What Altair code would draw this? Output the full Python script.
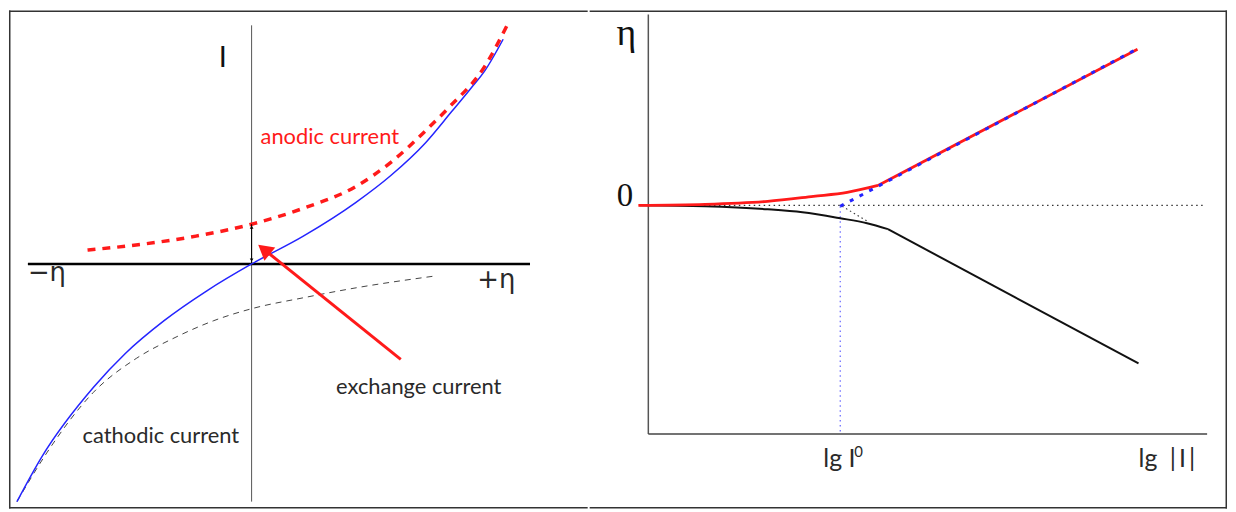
import altair as alt
import pandas as pd

# ---------------- left panel: current vs overpotential (diagram units) ----------------
bv_eta = [-2.36, -2.11, -1.59, -1.27, -0.88, -0.45, 0.0, 0.52, 1.05, 1.40, 1.75, 2.01, 2.20, 2.35, 2.53]
bv_I   = [-2.39, -1.94, -1.24, -0.90, -0.57, -0.27, 0.0, 0.28, 0.62, 0.89, 1.22, 1.53, 1.76, 1.95, 2.26]

anodic_eta = [-1.65, -1.09, -0.56, 0.0, 0.52, 1.05, 1.41, 1.77, 1.98, 2.34, 2.57]
anodic_I   = [0.14, 0.20, 0.28, 0.40, 0.56, 0.78, 1.03, 1.36, 1.57, 1.98, 2.40]

cathodic_eta = [-2.36, -2.06, -1.59, -1.16, -0.77, -0.38, 0.0, 0.52, 1.05, 1.85]
cathodic_I   = [-2.39, -1.90, -1.29, -0.95, -0.74, -0.57, -0.45, -0.34, -0.24, -0.12]

exch_arrow_tail = [1.50, -0.96]
exch_arrow_head = [0.125, 0.146]
i0_bar = [0.0, 0.40, 0.01]          # x, top, bottom of exchange-current marker

left_labels = ["I", "anodic current", "exchange current", "cathodic current", "\u2212\u03b7", "+\u03b7"]
left_lab_x  = [-0.29, 0.09, 0.85, -1.70, -2.25, 2.27]
left_lab_y  = [1.98, 1.21, -1.31, -1.80, -0.17, -0.24]

# ---------------- right panel: Tafel plot ----------------
anod_curve_lg  = [-0.10, 0.57, 1.20, 1.66, 2.00, 2.31]
anod_curve_eta = [0.00, 0.01, 0.04, 0.09, 0.13, 0.20]
anod_line_lg   = [2.31, 4.92]
anod_line_eta  = [0.20, 1.57]

cath_curve_lg  = [-0.09, 0.57, 1.20, 1.55, 1.93, 2.20, 2.41]
cath_curve_eta = [0.00, -0.01, -0.04, -0.07, -0.13, -0.18, -0.24]
cath_line_lg   = [2.41, 4.93]
cath_line_eta  = [-0.24, -1.59]

tafel_lg  = [1.93, 4.91]
tafel_eta = [-0.01, 1.57]

cath_tafel_lg  = [1.95, 2.22]
cath_tafel_eta = [-0.01, -0.17]

lg_i0 = 1.93
axis_bottom = -2.30

right_labels = ["\u03b7", "0"]
right_lab_x  = [-0.22, -0.235]
right_lab_y  = [1.61, -0.01]
tick_labels = ["lg I", "lg\u2002|\u2009I\u2009|"]
tick_lab_x  = [1.76, 4.93]
tick_lab_y  = [-2.63, -2.63]
sup_label = ["0"]
sup_x = [2.07]
sup_y = [-2.535]

# ---------------- styling ----------------
LW, RW, H = 582, 641, 501
RED = "#ff1a1a"
BLUE = "#2424ff"
DARK = "#2a2a2a"
FRAME = "#333333"
SANS = "Lato"
GREEK_SANS = "DejaVu Sans"
SERIF = "Liberation Serif"

L_X = alt.Scale(domain=[-2.44, 3.38], nice=False, zero=False)
L_Y = alt.Scale(domain=[-2.46, 2.55], nice=False, zero=False)
R_X = alt.Scale(domain=[-0.59, 5.82], nice=False, zero=False)
R_Y = alt.Scale(domain=[-3.05, 1.96], nice=False, zero=False)


def enc(xs, ys):
    return (alt.X("x:Q", scale=xs, axis=None), alt.Y("y:Q", scale=ys, axis=None))


def curve(xv, yv, sx, sy, **mk):
    df = pd.DataFrame({"x": xv, "y": yv, "i": list(range(len(xv)))})
    x, y = enc(sx, sy)
    return alt.Chart(df).mark_line(**mk).encode(x=x, y=y, order="i:Q")


def seg(x1, y1, x2, y2, sx, sy, **mk):
    df = pd.DataFrame({"x": [x1], "y": [y1], "x2": [x2], "y2": [y2]})
    x, y = enc(sx, sy)
    return alt.Chart(df).mark_rule(**mk).encode(x=x, y=y, x2="x2:Q", y2="y2:Q")


def texts(t, xv, yv, sx, sy, **mk):
    df = pd.DataFrame({"x": xv, "y": yv, "t": t})
    x, y = enc(sx, sy)
    return alt.Chart(df).mark_text(**mk).encode(x=x, y=y, text="t:N")


def pts(xv, yv, sx, sy, **mk):
    df = pd.DataFrame({"x": xv, "y": yv})
    x, y = enc(sx, sy)
    return alt.Chart(df).mark_point(**mk).encode(x=x, y=y)


dummy = pd.DataFrame({"d": [0]})


def frame_rule(**e):
    return alt.Chart(dummy).mark_rule(color=FRAME, strokeWidth=1.5).encode(**e)


# ---------------- left panel ----------------
left_layers = [
    frame_rule(x=alt.value(0), x2=alt.value(LW), y=alt.value(0.75)),
    frame_rule(x=alt.value(0), x2=alt.value(LW), y=alt.value(H - 0.75)),
    frame_rule(x=alt.value(0.75), y=alt.value(0), y2=alt.value(H)),
    seg(0, 2.40, 0, -2.39, L_X, L_Y, color="#555555", strokeWidth=1),
    seg(-2.25, 0, 2.80, 0, L_X, L_Y, color="black", strokeWidth=2.5),
    curve(cathodic_eta, cathodic_I, L_X, L_Y, color="#444444", strokeWidth=1,
          strokeDash=[6, 5], interpolate="monotone"),
    curve(bv_eta, bv_I, L_X, L_Y, color=BLUE, strokeWidth=1.5, interpolate="monotone"),
    curve(anodic_eta, anodic_I, L_X, L_Y, color=RED, strokeWidth=3.5,
          strokeDash=[8, 7], interpolate="monotone"),
    seg(i0_bar[0], i0_bar[1], i0_bar[0], i0_bar[2], L_X, L_Y, color="black", strokeWidth=1),
    pts([i0_bar[0]], [i0_bar[1] - 0.03], L_X, L_Y, shape="triangle-up", size=14,
        filled=True, color="black", opacity=1),
    pts([i0_bar[0]], [i0_bar[2] + 0.03], L_X, L_Y, shape="triangle-down", size=14,
        filled=True, color="black", opacity=1),
    seg(exch_arrow_tail[0], exch_arrow_tail[1], exch_arrow_head[0], exch_arrow_head[1],
        L_X, L_Y, color=RED, strokeWidth=3),
    pts([exch_arrow_head[0]], [exch_arrow_head[1]], L_X, L_Y, shape="triangle-up",
        size=300, angle=308.8, filled=True, color=RED, opacity=1),
    texts(left_labels[0:1], left_lab_x[0:1], left_lab_y[0:1], L_X, L_Y, font=SANS,
          fontSize=29, color="#111111", align="center", baseline="alphabetic"),
    texts(left_labels[1:2], left_lab_x[1:2], left_lab_y[1:2], L_X, L_Y, font=SANS,
          fontSize=22, color=RED, align="left", baseline="alphabetic"),
    texts(left_labels[2:4], left_lab_x[2:4], left_lab_y[2:4], L_X, L_Y, font=SANS,
          fontSize=22, color=DARK, align="left", baseline="alphabetic"),
    texts(left_labels[4:6], left_lab_x[4:6], left_lab_y[4:6], L_X, L_Y, font=GREEK_SANS,
          fontSize=26, color=DARK, align="left", baseline="alphabetic"),
]
left = alt.layer(*left_layers).properties(width=LW, height=H)

# ---------------- right panel ----------------
right_layers = [
    frame_rule(x=alt.value(0), x2=alt.value(RW), y=alt.value(0.75)),
    frame_rule(x=alt.value(0), x2=alt.value(RW), y=alt.value(H - 0.75)),
    frame_rule(x=alt.value(RW - 0.75), y=alt.value(0), y2=alt.value(H)),
    seg(0, 1.92, 0, axis_bottom, R_X, R_Y, color="#555555", strokeWidth=1.5),
    seg(0, axis_bottom, 5.62, axis_bottom, R_X, R_Y, color="#444444", strokeWidth=1.5),
    seg(-0.09, 0, 5.61, 0, R_X, R_Y, color="#333333", strokeWidth=1.2, strokeDash=[1.5, 3.5]),
    seg(lg_i0, -0.01, lg_i0, -2.28, R_X, R_Y, color="#5555ff", strokeWidth=1.1,
        strokeDash=[1.5, 3.5]),
    curve(cath_tafel_lg, cath_tafel_eta, R_X, R_Y, color="#333333", strokeWidth=1.1,
          strokeDash=[1.5, 3]),
    curve(cath_curve_lg, cath_curve_eta, R_X, R_Y, color="#111111", strokeWidth=2,
          interpolate="monotone"),
    curve(cath_line_lg, cath_line_eta, R_X, R_Y, color="#111111", strokeWidth=2),
    curve(anod_curve_lg, anod_curve_eta, R_X, R_Y, color=RED, strokeWidth=2.8,
          interpolate="monotone"),
    curve(anod_line_lg, anod_line_eta, R_X, R_Y, color=RED, strokeWidth=2.8),
    curve(tafel_lg, tafel_eta, R_X, R_Y, color=BLUE, strokeWidth=3, strokeDash=[4, 7]),
    texts(right_labels[0:1], right_lab_x[0:1], right_lab_y[0:1], R_X, R_Y, font=SERIF,
          fontSize=38, color="#111111", align="center", baseline="alphabetic"),
    texts(right_labels[1:2], right_lab_x[1:2], right_lab_y[1:2], R_X, R_Y, font=SERIF,
          fontSize=33, color="#111111", align="center", baseline="alphabetic"),
    texts(tick_labels, tick_lab_x, tick_lab_y, R_X, R_Y, font=SANS, fontSize=25,
          color=DARK, align="left", baseline="alphabetic"),
    texts(sup_label, sup_x, sup_y, R_X, R_Y, font=SANS, fontSize=15,
          color=DARK, align="left", baseline="alphabetic"),
]
right = alt.layer(*right_layers).properties(width=RW, height=H)

chart = (
    alt.hconcat(left, right, spacing=0)
    .properties(padding=0)
    .configure_view(stroke=None)
)

chart.save("out.html", embed_options={"renderer": "svg", "actions": False})
